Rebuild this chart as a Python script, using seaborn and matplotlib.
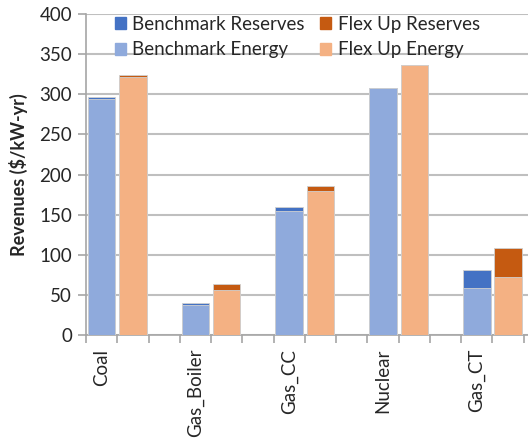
import numpy as np
import pandas as pd
import matplotlib
matplotlib.use("Agg")
import matplotlib.pyplot as plt
from matplotlib.patches import Patch
import seaborn as sns

# ---- data ----
plants = ["Coal", "Gas_Boiler", "Gas_CC", "Nuclear", "Gas_CT"]
bench_energy = [294, 37, 154, 308, 58]
bench_reserves = [2, 3, 6, 0, 23]
flex_energy = [321, 56, 179, 336, 72]
flex_reserves = [3, 7, 7, 0, 37]

# each plant gets three slots: benchmark, flex up, empty gap
rows = []
for i, p in enumerate(plants):
    rows.append(dict(slot=3 * i, series="Benchmark", energy=bench_energy[i],
                     total=bench_energy[i] + bench_reserves[i]))
    rows.append(dict(slot=3 * i + 1, series="Flex Up", energy=flex_energy[i],
                     total=flex_energy[i] + flex_reserves[i]))
df = pd.DataFrame(rows)

reserve_colors = {"Benchmark": "#4472C4", "Flex Up": "#C55A11"}
energy_colors = {"Benchmark": "#8FAADC", "Flex Up": "#F4B183"}

sns.set_style("white")
plt.rcParams["font.family"] = ["Lato", "DejaVu Sans"]

fig = plt.figure(figsize=(5.28, 4.41), dpi=100)
ax = fig.add_axes([86 / 528, 106 / 441, (555 - 86) / 528, 321 / 441])

bar_kw = dict(x="slot", hue="series", native_scale=True, dodge=False, width=0.88,
              saturation=1, edgecolor="#D0D0D0", linewidth=0.6, legend=False,
              errorbar=None, zorder=3)
sns.barplot(data=df, y="total", palette=reserve_colors, ax=ax, **bar_kw)
sns.barplot(data=df, y="energy", palette=energy_colors, ax=ax, **bar_kw)

ax.set_ylim(0, 400)
ax.set_xlim(-0.5, 14.5)
ax.set_yticks(np.arange(0, 401, 50))
ax.tick_params(axis="y", labelsize=13.5, length=6, color="#A6A6A6", width=1.2, pad=4,
               left=True, labelcolor="#262626")
ax.yaxis.grid(True, color="#BFBFBF", linewidth=1.5, zorder=0)
ax.set_axisbelow(True)

# tick marks at slot boundaries, labels under the benchmark bar
ax.set_xticks(np.arange(-0.5, 15, 1))
ax.set_xticklabels([])
ax.tick_params(axis="x", which="major", length=6, color="#A6A6A6", width=1.2, bottom=True)
ax.set_xticks([3 * i for i in range(len(plants))], minor=True)
ax.set_xticklabels(plants, minor=True, rotation=90, fontsize=13.5, color="#262626")
ax.tick_params(axis="x", which="minor", length=0, pad=10)

for s in ["top", "right"]:
    ax.spines[s].set_visible(False)
for s in ["left", "bottom"]:
    ax.spines[s].set_color("#A6A6A6")
    ax.spines[s].set_linewidth(1.2)
ax.set_xlabel("")
ax.set_ylabel("Revenues ($/kW-yr)", fontsize=13, fontweight="bold", labelpad=8)

handles = [Patch(color=reserve_colors["Benchmark"], label="Benchmark Reserves"),
           Patch(color=energy_colors["Benchmark"], label="Benchmark Energy"),
           Patch(color=reserve_colors["Flex Up"], label="Flex Up Reserves"),
           Patch(color=energy_colors["Flex Up"], label="Flex Up Energy")]
ax.legend(handles=handles, ncol=2, frameon=False, loc="upper left",
          bbox_to_anchor=(0.045, 1.018), fontsize=13.5, handlelength=0.6, handleheight=0.6,
          handletextpad=0.35, columnspacing=0.8, labelspacing=0.45, borderaxespad=0)

fig.savefig("out.png", dpi=100)
